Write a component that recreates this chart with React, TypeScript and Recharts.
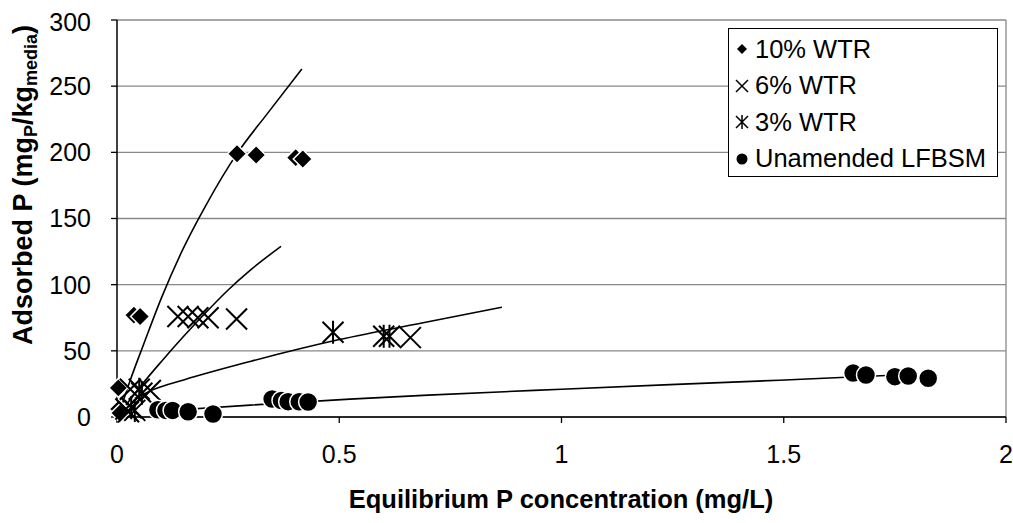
import React from "react";
import {
  ComposedChart,
  Scatter,
  Line,
  XAxis,
  YAxis,
  CartesianGrid,
  ReferenceLine,
  Legend,
  Label,
} from "recharts";

const FONT = "'Liberation Sans', Arial, sans-serif";

const X_TICKS = [0, 0.5, 1, 1.5, 2];
const Y_TICKS = [0, 50, 100, 150, 200, 250, 300];

// measured isotherm points (x = equilibrium P mg/L, y = adsorbed P mg/kg)
const wtr10 = [
  { x: 0.003, y: 22 }, { x: 0.004, y: 6 }, { x: 0.007, y: 3 },
  { x: 0.038, y: 77 }, { x: 0.052, y: 76 },
  { x: 0.27, y: 199 }, { x: 0.313, y: 198 }, { x: 0.402, y: 196 }, { x: 0.418, y: 195 },
];
const wtr6 = [
  { x: 0.03, y: 21 }, { x: 0.075, y: 20 }, { x: 0.02, y: 6 }, { x: 0.026, y: 4 },
  { x: 0.137, y: 76 }, { x: 0.16, y: 76 }, { x: 0.182, y: 75 }, { x: 0.205, y: 75 },
  { x: 0.269, y: 74 }, { x: 0.66, y: 60 },
];
const wtr3 = [
  { x: 0.05, y: 21 }, { x: 0.056, y: 18 }, { x: 0.032, y: 7 }, { x: 0.04, y: 5 },
  { x: 0.486, y: 64 }, { x: 0.6, y: 61 }, { x: 0.613, y: 61 },
];
const unamended = [
  { x: 0.092, y: 5.5 }, { x: 0.11, y: 5 }, { x: 0.125, y: 5 }, { x: 0.16, y: 4 }, { x: 0.216, y: 2.3 },
  { x: 0.349, y: 13.6 }, { x: 0.37, y: 12.5 }, { x: 0.385, y: 11.6 }, { x: 0.41, y: 11.5 }, { x: 0.43, y: 11.3 },
  { x: 1.656, y: 33.2 }, { x: 1.685, y: 31.7 }, { x: 1.75, y: 30.5 }, { x: 1.78, y: 31 }, { x: 1.825, y: 29.3 },
];

// trendlines
const fit10 = [
  { x: 0.01, y: 8 }, { x: 0.03, y: 28 }, { x: 0.06, y: 55 }, { x: 0.1, y: 90 },
  { x: 0.15, y: 128 }, { x: 0.2, y: 160 }, { x: 0.27, y: 199 }, { x: 0.34, y: 230 },
  { x: 0.416, y: 263 },
];
const fit6 = [
  { x: 0.02, y: 9 }, { x: 0.05, y: 22 }, { x: 0.1, y: 42 }, { x: 0.15, y: 61 },
  { x: 0.2, y: 79 }, { x: 0.25, y: 96 }, { x: 0.3, y: 111 }, { x: 0.369, y: 129 },
];
const fit3 = [
  { x: 0.04, y: 14 }, { x: 0.08, y: 20.5 }, { x: 0.15, y: 28 }, { x: 0.3, y: 42 },
  { x: 0.5, y: 58.5 }, { x: 0.7, y: 72 }, { x: 0.866, y: 83 },
];
const fitU = [
  { x: 0.074, y: 4 }, { x: 0.3, y: 9 }, { x: 0.524, y: 13.5 }, { x: 0.7, y: 16.5 },
  { x: 1.0, y: 21 }, { x: 1.244, y: 24.5 }, { x: 1.49, y: 27.8 }, { x: 1.653, y: 30.2 },
  { x: 1.77, y: 32 },
];

function Diamond({ cx, cy, r = 9.5, edge = true }: any) {
  return (
    <path
      d={`M${cx},${cy - r}L${cx + r},${cy}L${cx},${cy + r}L${cx - r},${cy}Z`}
      fill="#000"
      stroke={edge ? "#fff" : "none"}
      strokeWidth={1.5}
    />
  );
}

function Cross({ cx, cy, r = 10.5, w = 2 }: any) {
  return (
    <path
      d={`M${cx - r},${cy - r}L${cx + r},${cy + r}M${cx - r},${cy + r}L${cx + r},${cy - r}`}
      stroke="#000"
      strokeWidth={w}
      fill="none"
    />
  );
}

function Star({ cx, cy, r = 10.5, w = 2 }: any) {
  return (
    <path
      d={`M${cx - r},${cy - r}L${cx + r},${cy + r}M${cx - r},${cy + r}L${cx + r},${cy - r}M${cx},${cy - r - 1}L${cx},${cy + r + 1}`}
      stroke="#000"
      strokeWidth={w}
      fill="none"
    />
  );
}

function Dot({ cx, cy, r = 9.5, edge = true }: any) {
  return <circle cx={cx} cy={cy} r={r} fill="#000" stroke={edge ? "#fff" : "none"} strokeWidth={1.5} />;
}

const LEGEND_ITEMS = [
  { label: "10% WTR", icon: <Diamond cx={13} cy={11} r={5} edge={false} /> },
  { label: "6% WTR", icon: <Cross cx={13} cy={11} r={6} w={1.5} /> },
  { label: "3% WTR", icon: <Star cx={13} cy={11} r={6} w={1.5} /> },
  { label: "Unamended LFBSM", icon: <Dot cx={13} cy={11} r={5.5} edge={false} /> },
];

function LegendBox() {
  return (
    <div
      style={{
        width: 270,
        height: 149,
        boxSizing: "border-box",
        border: "1.5px solid #000",
        background: "#fff",
        fontFamily: FONT,
        fontSize: 25.5,
        color: "#000",
        paddingTop: 2,
      }}
    >
      {LEGEND_ITEMS.map((it) => (
        <div key={it.label} style={{ display: "flex", alignItems: "center", height: 36.5, whiteSpace: "nowrap" }}>
          <svg width={26} height={22} style={{ flex: "none" }}>
            {it.icon}
          </svg>
          <span>{it.label}</span>
        </div>
      ))}
    </div>
  );
}

function XTitle() {
  return (
    <text x={553} y={500} textAnchor="middle" fontFamily={FONT} fontWeight="bold" fontSize={25.5} fill="#000">
      Equilibrium P concentration (mg/L)
    </text>
  );
}

function YTitle() {
  const x = 24;
  const y = 177;
  return (
    <text
      x={x}
      y={y}
      transform={`rotate(-90, ${x}, ${y})`}
      textAnchor="middle"
      fontFamily={FONT}
      fontWeight="bold"
      fontSize={27}
      fill="#000"
    >
      Adsorbed P (mg
      <tspan dy={5} fontSize={18}>P</tspan>
      <tspan dy={-5}>/kg</tspan>
      <tspan dy={5} fontSize={18}>media</tspan>
      <tspan dy={-5}>)</tspan>
    </text>
  );
}

const tickStyle = { fontFamily: FONT, fontSize: 25, fill: "#000" };

export default function App() {
  return (
    <div style={{ position: "absolute", left: 8, top: 8, width: 1005, height: 515 }}>
      <ComposedChart width={1005} height={515} margin={{ top: 12, right: 7, bottom: 0, left: 0 }}>
        <CartesianGrid vertical={false} stroke="#888" strokeWidth={1.3} />
        <ReferenceLine x={2} stroke="#888" strokeWidth={1.3} />
        <XAxis
          type="number"
          dataKey="x"
          domain={[0, 2]}
          ticks={X_TICKS}
          height={106}
          tickSize={6}
          tickMargin={22}
          tick={tickStyle}
          axisLine={{ stroke: "#000", strokeWidth: 1.5 }}
          tickLine={{ stroke: "#000", strokeWidth: 1.3 }}
        >
          <Label content={XTitle} />
        </XAxis>
        <YAxis
          type="number"
          dataKey="y"
          domain={[0, 300]}
          ticks={Y_TICKS}
          width={109}
          tickSize={6}
          tickMargin={20}
          tick={tickStyle}
          axisLine={{ stroke: "#000", strokeWidth: 1.5 }}
          tickLine={{ stroke: "#000", strokeWidth: 1.3 }}
        >
          <Label content={YTitle} />
        </YAxis>
        <Legend
          layout="vertical"
          align="center"
          verticalAlign="middle"
          content={LegendBox}
          wrapperStyle={{ left: 720, top: 20, width: 270, height: 149 }}
        />
        <Line data={fit10} dataKey="y" type="monotone" stroke="#000" strokeWidth={1.6} dot={false} isAnimationActive={false} legendType="none" />
        <Line data={fit6} dataKey="y" type="monotone" stroke="#000" strokeWidth={1.6} dot={false} isAnimationActive={false} legendType="none" />
        <Line data={fit3} dataKey="y" type="monotone" stroke="#000" strokeWidth={1.6} dot={false} isAnimationActive={false} legendType="none" />
        <Line data={fitU} dataKey="y" type="monotone" stroke="#000" strokeWidth={1.6} dot={false} isAnimationActive={false} legendType="none" />
        <Scatter name="10% WTR" data={wtr10} shape={Diamond} isAnimationActive={false} />
        <Scatter name="6% WTR" data={wtr6} shape={Cross} isAnimationActive={false} />
        <Scatter name="3% WTR" data={wtr3} shape={Star} isAnimationActive={false} />
        <Scatter name="Unamended LFBSM" data={unamended} shape={Dot} isAnimationActive={false} />
      </ComposedChart>
    </div>
  );
}
